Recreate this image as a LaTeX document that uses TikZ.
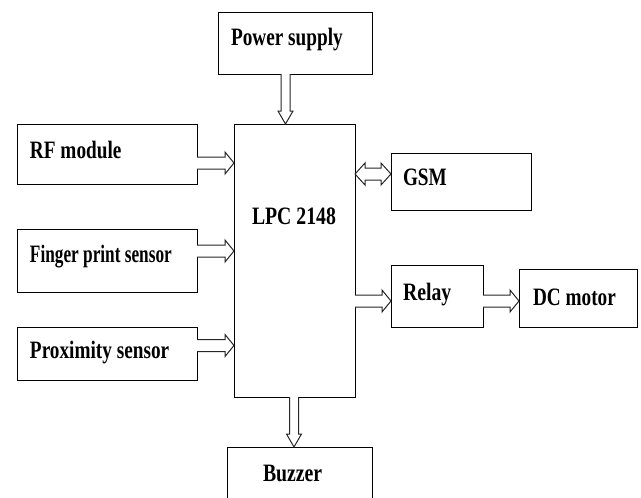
\documentclass[tikz,border=0pt]{standalone}
\usepackage{graphicx}
\usepackage{fontspec}
\setmainfont{Liberation Serif}
\usetikzlibrary{calc}
\tikzset{
  box/.style={draw=black, line width=1pt, inner sep=0pt, outer sep=0pt, fill=white},
  lbl/.style={anchor=base west, inner sep=0pt, outer sep=0pt, font=\fontsize{25}{25}\selectfont\bfseries},
  barrow/.style={draw=black!85, line width=1pt, fill=white, line join=miter},
}
\newcommand{\sq}[2][0.77]{\scalebox{#1}[1]{#2}}
% rightward hollow arrow: from point #1 to x of point #2
\newcommand{\rarrow}[2]{\draw[barrow] let \p1=#1, \p2=#2 in
  (\x1,\y1+6) -- (\x2-9,\y1+6) -- (\x2-9,\y1+11) -- (\x2,\y1) -- (\x2-9,\y1-11) -- (\x2-9,\y1-6) -- (\x1,\y1-6);}
% downward hollow arrow: from point #1 to y of point #2
\newcommand{\darrow}[2]{\draw[barrow] let \p1=#1, \p2=#2 in
  (\x1-4.5,\y1) -- (\x1-4.5,\y2+13) -- (\x1-7.5,\y2+13) -- (\x1,\y2) -- (\x1+7.5,\y2+13) -- (\x1+4.5,\y2+13) -- (\x1+4.5,\y1);}
% double-headed hollow arrow
\newcommand{\lrarrow}[2]{\draw[barrow] let \p1=#1, \p2=#2 in
  (\x1,\y1) -- (\x1+10,\y1+11) -- (\x1+10,\y1+6) -- (\x2-10,\y1+6) -- (\x2-10,\y1+11) -- (\x2,\y1) -- (\x2-10,\y1-11) -- (\x2-10,\y1-6) -- (\x1+10,\y1-6) -- (\x1+10,\y1-11) -- cycle;}
\begin{document}
\begin{tikzpicture}[x=1pt,y=-1pt]
\useasboundingbox (0,0) rectangle (641,498);
\clip (0,0) rectangle (641,498);
% boxes
\node[box, minimum width=154pt, minimum height=62pt]  (ps)  at (295,43) {};
\node[box, minimum width=121pt, minimum height=273pt] (lpc) at (294.5,260.5) {};
\node[box, minimum width=180pt, minimum height=60pt]  (rf)  at (107,154) {};
\node[box, minimum width=180pt, minimum height=63pt]  (fp)  at (107,260.5) {};
\node[box, minimum width=180pt, minimum height=53pt]  (px)  at (107,353.5) {};
\node[box, minimum width=140pt, minimum height=57pt]  (gsm) at (461,181.5) {};
\node[box, minimum width=92pt,  minimum height=62pt]  (relay) at (437,296) {};
\node[box, minimum width=118pt, minimum height=58pt]  (dcm) at (578,298) {};
\node[box, minimum width=145pt, minimum height=60pt]  (bz)  at (299.5,477) {};
% labels
\node[lbl] (tps)    at (231,45)  {\sq{Power supply}};
\node[lbl] (trf)    at (30,158)  {\sq{RF module}};
\node[lbl] (tfp)    at (30,262)  {\sq[0.69]{Finger print sensor}};
\node[lbl] (tpx)    at (30,358)  {\sq{Proximity sensor}};
\node[lbl] (tlpc)   at (252,224) {\sq[0.79]{LPC 2148}};
\node[lbl] (tgsm)   at (403,185) {\sq{GSM}};
\node[lbl] (trelay) at (403,300) {\sq[0.79]{Relay}};
\node[lbl] (tdcm)   at (533,305) {\sq{DC motor}};
\node[lbl] (tbz)    at (263,481) {\sq[0.79]{Buzzer}};
% connectors
\darrow{($(ps.south)+(-9.5,0)$)}{(lpc.north)}
\rarrow{($(rf.east)+(0,9)$)}{(lpc.west)}
\rarrow{($(fp.east)+(0,-9.5)$)}{(lpc.west)}
\rarrow{($(px.east)+(0,-8)$)}{(lpc.west)}
\lrarrow{($(lpc.east |- gsm.west)+(0,-7.5)$)}{(gsm.west)}
\rarrow{($(lpc.east |- relay.west)+(0,5)$)}{(relay.west)}
\rarrow{($(relay.east)+(0,5)$)}{(dcm.west)}
\darrow{($(lpc.south)+(-0.5,0)$)}{(bz.north)}
\end{tikzpicture}
\end{document}
